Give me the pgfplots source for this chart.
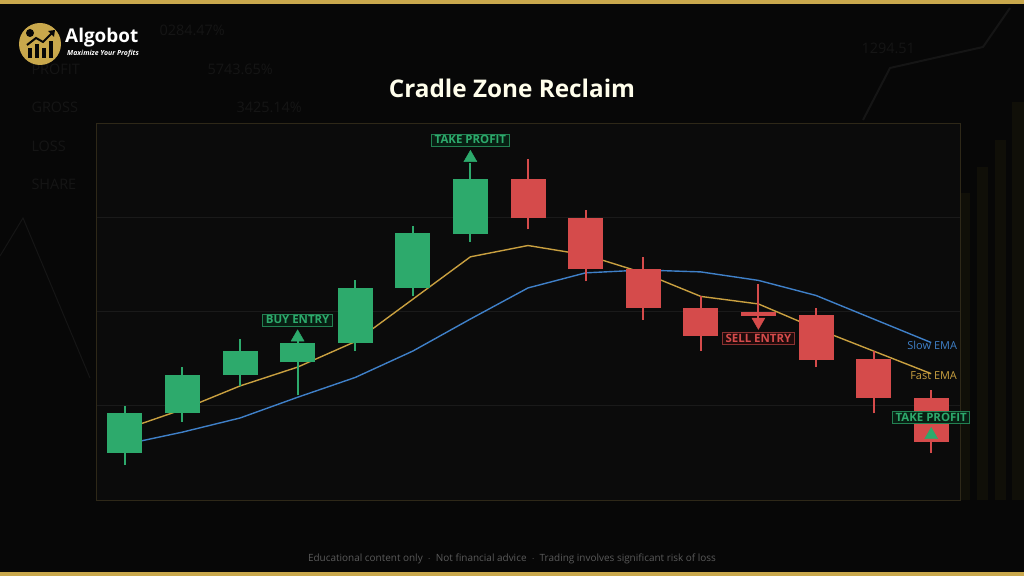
\documentclass[border=0pt]{standalone}
\usepackage{pgfplots}
\pgfplotsset{compat=1.18}
\usepackage{pgfplotstable}
\usepackage{fontspec}
\setmainfont{Open Sans}
\definecolor{bgc}{HTML}{070707}
\definecolor{plotbg}{HTML}{0B0B0B}
\definecolor{goldbar}{HTML}{C9A84C}
\definecolor{frame}{HTML}{2E2818}
\definecolor{gridc}{HTML}{1A1A1A}
\definecolor{upc}{HTML}{2DAA6C}
\definecolor{dnc}{HTML}{D54B4B}
\definecolor{fastc}{HTML}{C9A040}
\definecolor{slowc}{HTML}{3F80C8}
\definecolor{ghost}{HTML}{151515}
\definecolor{ghostb}{HTML}{100F08}
\definecolor{foot}{HTML}{5A5A5A}

\pgfplotstableread{
i open high low close
1 105.0 110.0 103.7 109.2
2 109.2 114.1 108.3 113.3
3 113.3 117.1 112.1 115.8
4 114.6 116.9 111.1 116.7
5 116.7 123.3 115.8 122.5
6 122.5 129.1 121.6 128.3
7 128.2 135.8 127.4 134.1
}\upcandles
\pgfplotstableread{
i open high low close
8  134.1 136.2 128.7 129.9
9  129.9 130.8 123.2 124.5
10 124.5 125.8 119.1 120.4
11 120.4 121.6 115.8 117.4
12 119.9 122.9 119.2 119.5
13 119.6 120.4 114.1 114.9
14 115.0 115.8 109.2 110.8
15 110.8 111.7 105.0 106.2
}\dncandles
\pgfplotstableread{
i fast slow
1 107.5 105.9
2 109.6 107.2
3 112.1 108.7
4 114.1 110.9
5 116.8 113.0
6 121.3 115.8
7 125.8 119.2
8 127.0 122.5
9 126.0 124.1
10 124.1 124.4
11 121.6 124.2
12 120.8 123.3
13 118.2 121.7
14 115.8 119.2
15 113.4 116.7
}\ema

\begin{document}
\begin{tikzpicture}[x=1bp,y=1bp]
\path[use as bounding box] (0,0) rectangle (1024,576);
\fill[bgc] (0,0) rectangle (1024,576);
% faint background decoration
\begin{scope}[font=\fontsize{14.5}{16}\selectfont, text=ghost]
\node[anchor=west] at (28,507) {PROFIT};
\node[anchor=west] at (28,469) {GROSS};
\node[anchor=west] at (28,430) {LOSS};
\node[anchor=west] at (28,392) {SHARE};
\node[anchor=west] at (156,546) {0284.47\%};
\node[anchor=west] at (204,507) {5743.65\%};
\node[anchor=west] at (233,469) {3425.14\%};
\node[anchor=west] at (858,528) {1294.51};
\end{scope}
\draw[ghost, line width=1bp] (0,320) -- (23,358) -- (90,198);
\draw[ghost, line width=2bp] (863,456) -- (890,508) -- (983,529) -- (1010,568);
\fill[ghostb] (960,76) rectangle (970,383);
\fill[ghostb] (977,76) rectangle (988,409);
\fill[ghostb] (995,76) rectangle (1006,436);
\fill[ghostb] (1012,76) rectangle (1024,474);
\fill[goldbar] (0,571.5) rectangle (1024,576);
\fill[goldbar] (0,0) rectangle (1024,4.3);
% logo
\fill[goldbar] (40,532) circle (21);
\fill[bgc] (28,518) rectangle (32,528);
\fill[bgc] (35,518) rectangle (39,532);
\fill[bgc] (42,518) rectangle (46,528);
\fill[bgc] (49,518) rectangle (53,535);
\draw[bgc, line width=2bp] (27,531) -- (36,538) -- (43,534) -- (52,543);
\fill[bgc] (55,546) -- (48,545) -- (54,539) -- cycle;
\fill[bgc] (30,543) circle (4);
\node[anchor=west, text=white, font=\fontsize{19}{21}\selectfont\bfseries, inner sep=0] at (65,538) {Algobot};
\node[anchor=west, text=white, font=\fontsize{7}{8}\selectfont\bfseries\itshape, inner sep=0] at (67,522) {Maximize Your Profits};
% title
\node[text=white!92!yellow, font=\fontsize{24.4}{28}\selectfont\bfseries] at (512,488) {Cradle Zone Reclaim};
\node[text=foot, font=\fontsize{10}{12}\selectfont] at (512,17.5) {Educational content only \ $\cdot$ \ Not financial advice \ $\cdot$ \ Trading involves significant risk of loss};

\begin{axis}[
  at={(96bp,76bp)}, anchor=south west,
  scale only axis, width=864bp, height=377bp,
  xmin=0.5, xmax=15.5, ymin=100, ymax=140,
  axis background/.style={fill=plotbg},
  axis line style={draw=frame, line width=0.8bp},
  xtick=\empty, ytick={110,120,130}, yticklabels={},
  major tick length=0pt,
  ymajorgrids, grid style={draw=gridc, line width=0.8bp},
  clip=false,
]
% EMAs
\addplot[fastc, line width=1.4bp, mark=none] table[x=i, y=fast] {\ema};
\addplot[slowc, line width=1.4bp, mark=none] table[x=i, y=slow] {\ema};
% wicks
\addplot[draw=none, mark=none, error bars/.cd, y dir=plus, y explicit,
  error bar style={draw=upc, line width=2bp}, error mark=none]
  table[x=i, y=low, y error plus expr=\thisrow{high}-\thisrow{low}] {\upcandles};
\addplot[draw=none, mark=none, error bars/.cd, y dir=plus, y explicit,
  error bar style={draw=dnc, line width=2bp}, error mark=none]
  table[x=i, y=low, y error plus expr=\thisrow{high}-\thisrow{low}] {\dncandles};
% bodies
\addplot[draw=none, mark=none, error bars/.cd, y dir=plus, y explicit,
  error bar style={draw=upc, line width=35bp}, error mark=none]
  table[x=i, y=open, y error plus expr=\thisrow{close}-\thisrow{open}] {\upcandles};
\addplot[draw=none, mark=none, error bars/.cd, y dir=plus, y explicit,
  error bar style={draw=dnc, line width=35bp}, error mark=none]
  table[x=i, y=close, y error plus expr=\thisrow{open}-\thisrow{close}] {\dncandles};
% signal arrows
\addplot[only marks, mark=triangle*, mark size=7.5bp, color=upc] coordinates {(4,117.26) (7,136.3) (15,106.9)};
\addplot[only marks, mark=triangle*, mark size=7.5bp, color=dnc, mark options={rotate=180}] coordinates {(12,118.9)};
% labels
\begin{scope}[font=\fontsize{11.5}{13}\selectfont\bfseries, inner xsep=3bp, inner ysep=1.5bp, text height=8.5bp, text depth=0.5bp, line width=0.8bp]
\node[draw=upc!75!black, fill=upc!18!black, text=upc] at (axis cs:4,119.1) {BUY ENTRY};
\node[draw=upc!75!black, fill=upc!18!black, text=upc] at (axis cs:7,138.2) {TAKE PROFIT};
\node[draw=dnc!65!black, fill=dnc!15!black, text=dnc] at (axis cs:12,117.1) {SELL ENTRY};
\node[draw=upc!75!black, fill=upc!18!black, text=upc] at (axis cs:15.0,108.75) {TAKE PROFIT};
\end{scope}
\node[anchor=east, text=slowc, font=\fontsize{11}{13}\selectfont, inner sep=0] at (axis cs:15.45,116.4) {Slow EMA};
\node[anchor=east, text=fastc, font=\fontsize{11}{13}\selectfont, inner sep=0] at (axis cs:15.45,113.2) {Fast EMA};
\end{axis}
\end{tikzpicture}
\end{document}
